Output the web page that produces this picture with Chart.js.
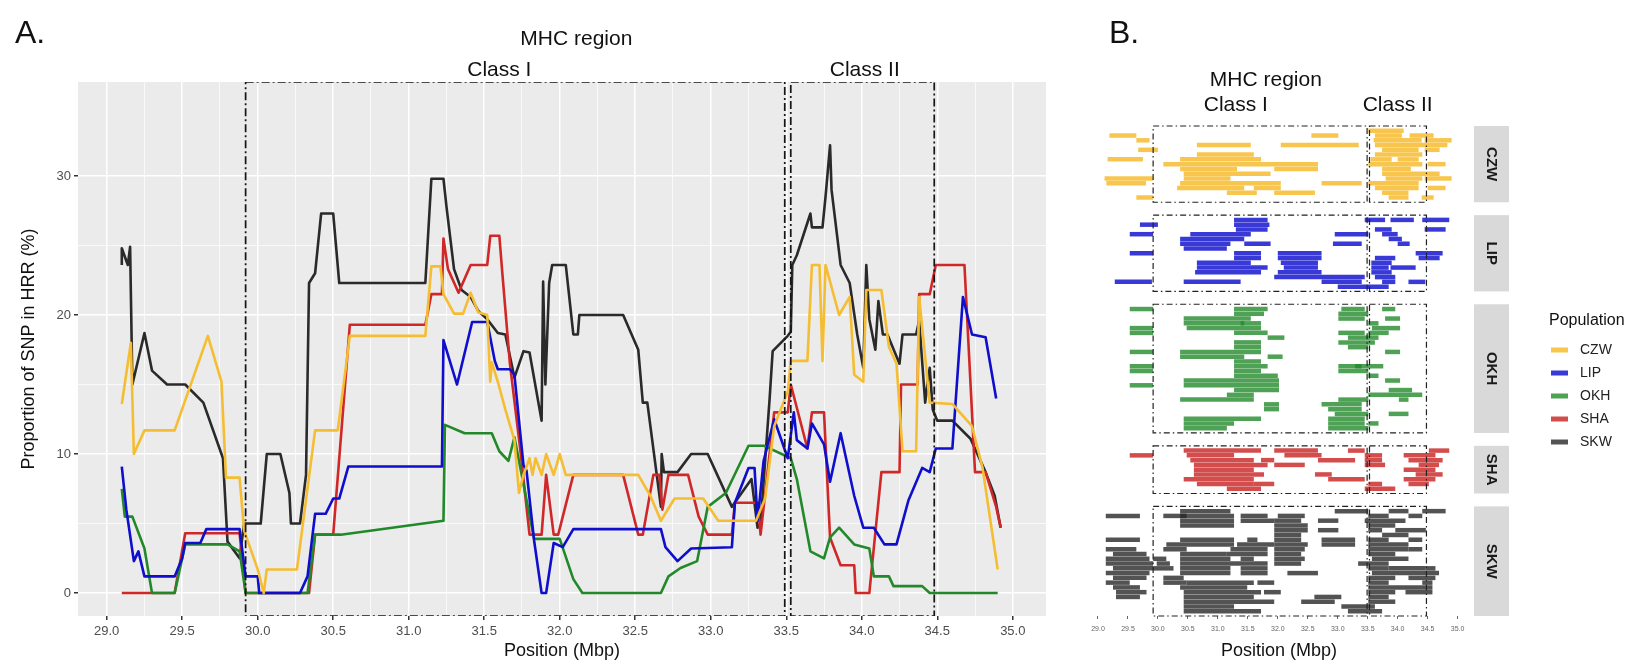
<!DOCTYPE html>
<html>
<head>
<meta charset="utf-8">
<script src="https://cdn.jsdelivr.net/npm/chart.js@4.4.1/dist/chart.umd.min.js"></script>
<style>
  body { margin: 0; background: #fff; }
  #wrap { position: relative; width: 1652px; height: 662px; overflow: hidden; font-family: "Liberation Sans", Arial, sans-serif; }
  canvas { position: absolute; top: 0; }
  #panelA { left: 0; }
  #panelB { left: 1070px; }
  .tag { position: absolute; font-size: 32px; line-height: 1; color: #111; }
</style>
</head>
<body>
<div id="wrap">
  <canvas id="panelA" width="1070" height="662"></canvas>
  <canvas id="panelB" width="582" height="662"></canvas>
  <div class="tag" style="left:15px;top:16px">A.</div>
  <div class="tag" style="left:1109px;top:16px">B.</div>
</div>
<script>
const populations = ['CZW', 'LIP', 'OKH', 'SHA', 'SKW']
const lineColors = ['#F5BD32', '#0E0ECC', '#22892A', '#D02828', '#2A2A2A']
const blockColors = ['rgba(247,186,40,0.82)', 'rgba(14,14,206,0.82)', 'rgba(34,137,42,0.8)', 'rgba(200,32,32,0.8)', 'rgba(40,40,40,0.8)']

// MHC sub-regions (Mbp)
const classI = [29.92, 33.49]
const classII = [33.53, 34.48]

// where the region captions sit on each panel (Mbp): MHC, Class I, Class II
const captionsA = [32.11, 31.6, 34.02]
const captionsB = [31.8, 31.3, 34.0]

// axis breaks
const xBreaks = [29.0, 29.5, 30.0, 30.5, 31.0, 31.5, 32.0, 32.5, 33.0, 33.5, 34.0, 34.5, 35.0]
const yBreaks = [0, 10, 20, 30]

// proportion of SNPs in HRR along the window, [position, percent]
const czwTrack = [[29.10,13.6],[29.16,18.0],[29.18,10.0],[29.25,11.7],[29.45,11.7],[29.67,18.5],[29.76,15.2],[29.79,8.3],[29.88,8.3],[29.91,4.5],[30.00,1.7],[30.04,0],[30.06,1.7],[30.26,1.7],[30.38,11.7],[30.53,11.7],[30.61,18.5],[31.11,18.5],[31.15,23.5],[31.21,23.5],[31.23,21.5],[31.30,20.1],[31.36,20.1],[31.41,21.6],[31.46,20.2],[31.52,20.0],[31.54,15.2],[31.55,16.6],[31.59,15.2],[31.64,13.2],[31.70,11.0],[31.73,7.2],[31.76,8.5],[31.80,9.7],[31.82,8.5],[31.84,9.7],[31.88,8.5],[31.91,10.0],[31.96,8.5],[32.00,10.0],[32.04,8.5],[32.52,8.5],[32.60,7.0],[32.67,5.2],[32.76,6.8],[32.95,6.8],[33.05,5.2],[33.30,5.2],[33.36,6.8],[33.42,12.0],[33.51,14.5],[33.53,16.7],[33.64,16.7],[33.67,23.6],[33.72,23.6],[33.74,16.7],[33.76,23.6],[33.85,20.0],[33.92,21.3],[33.95,15.7],[34.01,15.2],[34.03,21.8],[34.13,21.8],[34.18,17.7],[34.23,16.5],[34.27,10.2],[34.36,10.2],[34.38,21.3],[34.45,13.7],[34.60,13.6],[34.73,12.0],[34.80,9.0],[34.90,1.7]]
const lipTrack = [[29.10,9.1],[29.13,6.0],[29.18,2.3],[29.21,3.0],[29.25,1.2],[29.45,1.2],[29.50,2.5],[29.52,3.6],[29.62,3.6],[29.66,4.6],[29.88,4.6],[29.92,1.2],[30.00,1.2],[30.01,0],[30.28,0],[30.33,1.2],[30.38,5.7],[30.45,5.7],[30.50,6.8],[30.54,6.8],[30.60,9.1],[31.22,9.1],[31.23,18.2],[31.32,15.0],[31.42,19.5],[31.52,19.5],[31.57,16.7],[31.59,16.1],[31.67,16.1],[31.70,15.7],[31.76,9.2],[31.78,8.8],[31.83,3.8],[31.88,0],[31.91,0],[31.96,3.6],[32.02,3.3],[32.09,4.6],[32.67,4.6],[32.70,3.3],[32.78,2.3],[32.87,3.2],[33.14,3.3],[33.16,6.5],[33.25,9.0],[33.29,9.0],[33.31,5.2],[33.35,9.5],[33.42,12.5],[33.51,9.7],[33.55,13.0],[33.57,11.0],[33.64,10.4],[33.67,12.2],[33.75,10.7],[33.79,8.0],[33.86,11.5],[33.95,7.0],[34.01,4.7],[34.08,4.7],[34.15,3.5],[34.23,3.5],[34.31,6.7],[34.40,9.0],[34.45,8.7],[34.49,10.4],[34.60,10.4],[34.67,21.3],[34.73,18.6],[34.82,18.4],[34.89,14.0]]
const okhTrack = [[29.10,7.5],[29.12,5.5],[29.17,5.5],[29.25,3.2],[29.30,0],[29.45,0],[29.52,3.5],[29.80,3.5],[29.88,3.0],[29.92,0],[30.33,0],[30.38,4.2],[30.55,4.2],[31.23,5.2],[31.24,12.1],[31.37,11.5],[31.55,11.5],[31.60,10.2],[31.66,9.5],[31.70,11.2],[31.83,3.9],[32.00,3.9],[32.09,1.0],[32.15,0],[32.67,0],[32.72,1.2],[32.80,1.8],[32.91,2.3],[32.98,6.2],[33.10,7.2],[33.25,10.6],[33.35,10.6],[33.53,9.7],[33.57,8.2],[33.66,3.0],[33.75,2.5],[33.79,4.0],[33.85,4.7],[33.95,3.5],[34.05,3.2],[34.08,1.2],[34.18,1.2],[34.21,0.5],[34.40,0.5],[34.45,0],[34.90,0]]
const shaTrack = [[29.10,0],[29.45,0],[29.52,4.3],[29.88,4.3],[29.92,0],[30.34,0],[30.38,4.2],[30.50,4.2],[30.61,19.3],[31.11,19.3],[31.15,21.5],[31.22,21.5],[31.23,25.5],[31.26,23.3],[31.33,21.6],[31.41,23.6],[31.52,23.6],[31.54,25.7],[31.60,25.7],[31.62,23.0],[31.67,16.5],[31.74,10.2],[31.80,4.2],[31.88,4.2],[31.91,8.5],[31.96,4.2],[31.99,4.2],[32.09,8.5],[32.42,8.5],[32.52,4.2],[32.55,4.2],[32.62,8.5],[32.66,8.5],[32.68,6.0],[32.72,8.5],[32.85,8.5],[32.92,5.5],[32.98,4.2],[33.14,4.2],[33.16,6.5],[33.31,6.5],[33.33,4.2],[33.42,13.0],[33.51,13.0],[33.53,15.0],[33.64,10.4],[33.67,13.0],[33.75,13.0],[33.79,4.0],[33.86,2.0],[33.95,2.0],[33.96,0],[34.05,0],[34.13,8.7],[34.25,8.7],[34.26,15.0],[34.37,15.0],[34.38,21.5],[34.45,21.5],[34.49,23.6],[34.68,23.6],[34.75,8.7],[34.82,8.7],[34.89,6.2],[34.92,4.7]]
const skwTrack = [[29.10,23.6],[29.10,24.8],[29.14,23.6],[29.155,24.9],[29.17,15.0],[29.25,18.7],[29.30,16.0],[29.40,15.0],[29.52,15.0],[29.64,13.7],[29.77,9.7],[29.80,3.7],[29.88,2.5],[29.91,5.0],[30.02,5.0],[30.06,10.0],[30.15,10.0],[30.21,7.2],[30.22,5.0],[30.28,5.0],[30.32,8.5],[30.34,22.3],[30.38,23.0],[30.42,27.3],[30.50,27.3],[30.54,22.3],[31.11,22.3],[31.15,29.8],[31.23,29.8],[31.25,27.8],[31.30,23.3],[31.35,21.8],[31.41,21.3],[31.46,20.3],[31.52,19.7],[31.59,18.7],[31.64,18.6],[31.70,15.5],[31.76,17.4],[31.80,17.3],[31.88,12.4],[31.89,22.4],[31.905,15.0],[31.93,22.3],[31.95,23.6],[32.04,23.6],[32.09,18.6],[32.12,18.6],[32.13,20.0],[32.42,20.0],[32.52,17.5],[32.55,13.7],[32.58,13.7],[32.67,6.2],[32.675,10.0],[32.69,8.7],[32.78,8.7],[32.87,10.0],[32.98,10.0],[33.14,6.2],[33.27,8.2],[33.31,4.7],[33.33,5.0],[33.39,14.0],[33.41,17.4],[33.51,18.5],[33.53,18.8],[33.54,23.6],[33.57,24.3],[33.66,27.3],[33.67,26.3],[33.74,26.3],[33.76,28.5],[33.79,32.2],[33.80,29.0],[33.86,23.6],[33.92,22.3],[33.97,18.6],[34.01,16.2],[34.03,23.6],[34.05,19.7],[34.09,17.5],[34.11,21.0],[34.14,18.6],[34.17,18.6],[34.25,16.5],[34.27,18.6],[34.36,18.6],[34.38,19.6],[34.42,13.7],[34.44,15.5],[34.45,16.2],[34.47,13.2],[34.50,12.4],[34.60,12.4],[34.72,11.1],[34.82,8.7],[34.88,7.0],[34.92,4.7]]

// HRR blocks per haplotype, [row, start, end]
const czwBlocks = [[1,33.51,34.10],[2,29.19,29.64],[2,32.56,33.01],[2,33.62,34.07],[2,34.2,34.6],[3,29.64,29.86],[3,33.6,34.4],[3,34.45,34.9],[4,30.65,31.55],[4,32.05,32.67],[4,32.67,33.35],[4,33.62,34.83],[5,29.67,30.0],[5,33.74,34.35],[5,34.45,34.7],[6,30.65,31.6],[6,33.62,34.41],[7,29.16,29.75],[7,30.37,31.72],[7,33.55,33.9],[7,34.0,34.35],[8,30.09,32.67],[8,33.51,34.41],[8,34.5,34.8],[9,30.37,31.32],[9,31.94,32.67],[9,33.74,34.22],[10,30.43,31.88],[10,33.74,34.7],[11,29.11,29.92],[11,30.43,31.21],[11,33.8,34.41],[11,34.45,34.9],[12,29.14,29.8],[12,30.37,32.05],[12,32.73,33.4],[12,33.51,34.35],[13,30.32,31.44],[13,31.6,32.05],[13,33.62,34.35],[13,34.5,34.8],[14,31.15,31.65],[14,31.94,32.62],[14,33.74,34.18],[15,29.64,29.92],[15,33.85,34.18],[15,34.4,34.6]]
const lipBlocks = [[1,31.27,31.83],[1,33.45,33.79],[1,33.88,34.27],[1,34.41,34.86],[2,29.7,30.0],[2,31.27,31.86],[3,31.3,31.83],[3,33.62,33.9],[3,34.45,34.8],[4,29.53,29.92],[4,30.54,31.55],[4,32.95,33.51],[4,33.74,34.0],[5,30.37,31.44],[5,33.85,34.07],[6,30.37,31.21],[6,31.44,31.88],[6,32.92,33.4],[6,34.0,34.2],[7,30.43,31.15],[8,29.53,29.92],[8,31.27,31.72],[8,32.0,32.73],[8,34.3,34.75],[9,31.27,31.72],[9,32.0,32.73],[9,33.62,33.96],[9,34.35,34.7],[10,30.65,31.55],[10,32.05,32.67],[10,33.56,33.9],[11,30.65,31.83],[11,32.1,32.67],[11,33.56,33.85],[11,33.88,34.3],[12,30.62,31.72],[12,32.0,32.73],[12,33.56,33.9],[13,31.94,33.45],[13,33.62,33.96],[14,29.28,29.9],[14,30.43,31.38],[14,32.73,33.4],[14,33.74,33.96],[14,34.18,34.46],[15,33.0,33.85]]
const okhBlocks = [[1,29.53,29.92],[1,31.27,31.83],[1,33.06,33.45],[1,33.74,33.96],[2,31.27,31.77],[2,33.01,33.51],[3,30.43,31.55],[3,33.01,33.45],[3,33.79,34.04],[4,30.43,31.44],[4,31.38,31.72],[4,33.51,33.68],[5,29.53,29.92],[5,30.48,31.72],[5,33.57,34.04],[6,29.53,29.92],[6,31.27,31.83],[6,33.01,33.45],[6,33.51,33.85],[7,31.83,32.11],[7,33.17,33.68],[8,31.27,31.72],[8,33.01,33.62],[9,31.27,31.72],[9,33.17,33.51],[10,29.53,29.92],[10,30.37,31.72],[10,33.79,34.04],[11,30.37,31.44],[11,31.83,32.08],[12,31.27,31.72],[13,29.53,29.92],[13,31.27,31.83],[13,33.01,33.4],[13,33.29,33.76],[14,29.53,29.92],[14,31.27,31.72],[14,33.01,33.51],[15,31.27,32.0],[15,33.51,33.68],[16,30.43,32.02],[16,33.79,34.04],[17,29.53,29.92],[17,30.43,32.02],[18,31.27,32.02],[18,33.85,34.24],[19,31.15,31.6],[19,33.51,34.41],[20,30.37,31.6],[20,33.01,33.51],[20,34.02,34.18],[21,31.77,32.02],[21,32.73,33.4],[22,31.77,32.02],[22,32.84,33.4],[23,32.95,33.51],[23,33.85,34.18],[24,30.43,31.72],[24,32.84,33.45],[25,30.43,31.27],[25,32.84,33.45],[25,33.51,33.68],[26,30.43,31.15],[26,32.84,33.51]]
const shaBlocks = [[1,30.43,31.72],[1,31.94,32.67],[1,33.17,33.45],[1,34.52,34.86],[2,29.53,29.92],[2,30.48,31.27],[2,32.11,32.73],[2,33.45,33.74],[2,34.1,34.63],[3,30.54,31.6],[3,31.72,31.94],[3,32.67,33.29],[3,33.45,33.74],[3,34.18,34.75],[4,30.6,31.83],[4,31.94,32.45],[4,33.45,33.79],[4,34.35,34.69],[5,30.6,31.6],[5,34.1,34.63],[6,30.6,31.77],[6,32.62,32.9],[6,34.3,34.75],[7,30.43,31.6],[7,32.84,33.45],[7,34.1,34.63],[8,30.65,31.6],[8,31.6,31.94],[8,33.51,33.74],[8,34.18,34.52],[9,31.15,31.72],[9,33.45,33.96]]
const skwBlocks = [[1,30.37,31.21],[1,32.95,33.51],[1,33.85,34.18],[1,34.41,34.8],[2,29.13,29.7],[2,30.09,30.48],[2,30.37,31.27],[2,31.38,31.83],[2,32.0,32.45],[2,33.51,33.85],[2,34.18,34.41],[3,30.37,31.27],[3,31.38,31.94],[3,31.94,32.39],[3,32.67,33.01],[3,33.45,34.13],[4,30.37,31.27],[4,31.94,32.5],[4,33.51,33.96],[5,31.94,32.5],[5,32.67,33.01],[5,33.51,33.74],[5,33.96,34.47],[6,31.94,32.39],[6,33.74,34.18],[7,29.13,29.7],[7,30.37,31.27],[7,31.49,31.66],[7,31.94,32.39],[7,32.73,33.29],[7,33.51,33.85],[7,34.18,34.41],[8,30.14,31.27],[8,31.32,31.94],[8,31.94,32.5],[8,32.73,33.29],[8,33.51,34.18],[9,29.13,29.64],[9,30.09,30.48],[9,31.21,31.83],[9,31.94,32.45],[9,33.51,34.18],[9,34.18,34.41],[10,29.25,29.81],[10,30.37,31.15],[10,31.15,31.83],[10,31.94,32.39],[10,33.51,33.96],[11,29.13,29.86],[11,29.92,30.14],[11,30.37,31.21],[11,31.38,31.6],[11,31.94,32.45],[11,33.57,34.18],[12,29.13,29.92],[12,29.98,30.2],[12,30.37,31.27],[12,31.27,31.83],[12,31.94,32.39],[12,33.34,33.85],[13,29.25,29.92],[13,29.92,30.26],[13,30.37,31.21],[13,31.38,31.83],[13,33.51,33.85],[13,33.85,34.47],[13,34.47,34.63],[14,29.13,29.86],[14,30.37,31.21],[14,31.38,31.83],[14,32.16,32.67],[14,33.57,34.69],[15,29.25,29.81],[15,30.09,30.43],[15,33.51,33.96],[15,34.18,34.63],[16,29.13,29.53],[16,30.09,30.48],[16,30.48,31.6],[16,31.66,31.94],[16,33.51,33.85],[16,34.41,34.58],[17,29.25,29.7],[17,30.37,31.49],[17,33.51,34.58],[18,29.3,29.81],[18,30.43,31.72],[18,31.77,32.05],[18,33.51,33.96],[18,34.13,34.58],[19,29.3,29.7],[19,30.43,31.6],[19,32.61,33.06],[19,33.51,33.85],[20,30.43,31.94],[20,32.39,32.95],[20,33.51,33.96],[21,30.43,31.27],[21,33.06,33.62],[22,30.43,31.72],[22,33.17,33.74]]

const tracks = [czwTrack, lipTrack, okhTrack, shaTrack, skwTrack]
const blocks = [czwBlocks, lipBlocks, okhBlocks, shaBlocks, skwBlocks]

Chart.defaults.font.family = '"Liberation Sans", Arial, sans-serif'
Chart.defaults.animation = false
Chart.defaults.responsive = false
Chart.defaults.events = []
Chart.defaults.plugins.legend.display = false
Chart.defaults.plugins.tooltip.enabled = false

const FONT = '"Liberation Sans", Arial, sans-serif'

// gridline positions: majors plus a minor halfway between neighbours
const withMinors = majors => majors.flatMap((v, i) => i ? [(v + majors[i - 1]) / 2, v] : [v])
const isMajor = (list, v) => list.some(b => Math.abs(b - v) < 1e-9)

const strokeBox = (ctx, x0, x1, y0, y1) => {
    ctx.beginPath()
    ctx.rect(x0, y0, x1 - x0, y1 - y0)
    ctx.stroke()
}

const drawRegionTitles = (chart, at, yMain, yClass) => {
    const { ctx, scales: { x } } = chart
    ctx.save()
    ctx.fillStyle = '#111'
    ctx.font = `21px ${FONT}`
    ctx.textAlign = 'center'
    ctx.textBaseline = 'middle'
    ctx.fillText('MHC region', x.getPixelForValue(at[0]), yMain)
    ctx.fillText('Class I', x.getPixelForValue(at[1]), yClass)
    ctx.fillText('Class II', x.getPixelForValue(at[2]), yClass)
    ctx.restore()
}

// ---------- panel A: proportion lines ----------
const greyPanel = {
    id: 'greyPanel',
    beforeDraw(chart) {
        const { ctx, chartArea: a } = chart
        ctx.save()
        ctx.fillStyle = '#EBEBEB'
        ctx.fillRect(a.left, a.top, a.right - a.left, a.bottom - a.top)
        ctx.restore()
    }
}

const regionsA = {
    id: 'regionsA',
    afterDatasetsDraw(chart) {
        const { ctx, chartArea: a, scales: { x } } = chart
        ctx.save()
        ctx.beginPath()
        ctx.rect(a.left, a.top, a.right - a.left, a.bottom - a.top)
        ctx.clip()
        ctx.strokeStyle = '#151515'
        ctx.lineWidth = 1.7
        ctx.setLineDash([8, 3, 2, 3])
        for (const r of [classI, classII]) {
            strokeBox(ctx, x.getPixelForValue(r[0]), x.getPixelForValue(r[1]), a.top, a.bottom)
        }
        ctx.restore()
    },
    afterDraw(chart) {
        drawRegionTitles(chart, captionsA, 39, 70)
    }
}

const xGridA = withMinors(xBreaks)
const yGridA = withMinors(yBreaks)

new Chart(document.getElementById('panelA'), {
    type: 'line',
    data: {
        datasets: tracks.map((t, i) => ({
            label: populations[i],
            data: t.map(p => ({ x: p[0], y: p[1] })),
            borderColor: lineColors[i],
            borderWidth: 2.6,
            borderJoinStyle: 'round',
            pointRadius: 0,
            tension: 0,
            fill: false
        }))
    },
    options: {
        layout: { padding: { top: 82, right: 24 } },
        scales: {
            x: {
                type: 'linear',
                min: 28.81,
                max: 35.22,
                afterBuildTicks: axis => { axis.ticks = xGridA.map(v => ({ value: v })) },
                afterFit: axis => { axis.height = 46 },
                ticks: {
                    autoSkip: false,
                    maxRotation: 0,
                    padding: 4,
                    color: '#4D4D4D',
                    font: { size: 13 },
                    callback: v => isMajor(xBreaks, v) ? v.toFixed(1) : ''
                },
                grid: {
                    color: '#FFFFFF',
                    lineWidth: c => c.tick && isMajor(xBreaks, c.tick.value) ? 1.5 : 0.7,
                    tickLength: 4,
                    tickColor: c => c.tick && isMajor(xBreaks, c.tick.value) ? '#333333' : 'rgba(0,0,0,0)'
                },
                border: { display: false },
                title: { display: true, text: 'Position (Mbp)', color: '#111', font: { size: 18 }, padding: { top: 0, bottom: 0 } }
            },
            y: {
                type: 'linear',
                min: -1.65,
                max: 36.76,
                afterBuildTicks: axis => { axis.ticks = yGridA.map(v => ({ value: v })) },
                afterFit: axis => { axis.width = 78 },
                ticks: {
                    autoSkip: false,
                    padding: 3,
                    color: '#4D4D4D',
                    font: { size: 13 },
                    callback: v => isMajor(yBreaks, v) ? v : ''
                },
                grid: {
                    color: '#FFFFFF',
                    lineWidth: c => c.tick && isMajor(yBreaks, c.tick.value) ? 1.5 : 0.7,
                    tickLength: 4,
                    tickColor: c => c.tick && isMajor(yBreaks, c.tick.value) ? '#333333' : 'rgba(0,0,0,0)'
                },
                border: { display: false },
                title: { display: true, text: 'Proportion of SNP in HRR (%)', color: '#111', font: { size: 18 }, padding: { top: 18 } }
            }
        }
    },
    plugins: [greyPanel, regionsA]
})

// ---------- panel B: HRR blocks faceted by population ----------
const facetGap = 2.7
let cursor = 0
const facetSpans = blocks.map(list => {
    const rows = Math.max(...list.map(b => b[0]))
    const span = { top: cursor, bottom: cursor + rows + 1 }
    cursor = span.bottom + facetGap
    return span
})
const rowsEnd = cursor - facetGap

const blockSets = []
blocks.forEach((list, i) => {
    list.forEach(([row, start, end]) => {
        const y = facetSpans[i].top + row
        blockSets.push({
            data: [{ x: start, y }, { x: end, y }],
            borderColor: blockColors[i],
            borderWidth: 4.5,
            borderCapStyle: 'butt',
            pointRadius: 0,
            tension: 0,
            fill: false
        })
    })
})

const facetDecor = {
    id: 'facetDecor',
    afterDatasetsDraw(chart) {
        const { ctx, scales: { x, y } } = chart
        ctx.save()
        ctx.strokeStyle = '#222'
        ctx.lineWidth = 1.2
        ctx.setLineDash([6, 3, 1.5, 3])
        facetSpans.forEach(s => {
            const y0 = y.getPixelForValue(s.top)
            const y1 = y.getPixelForValue(s.bottom)
            for (const r of [classI, classII]) {
                strokeBox(ctx, x.getPixelForValue(r[0]), x.getPixelForValue(r[1]), y0, y1)
            }
        })
        ctx.restore()
    },
    afterDraw(chart) {
        const { ctx, chartArea: a, scales: { y } } = chart
        // facet strips
        ctx.save()
        const stripLeft = a.right + 2
        const stripWidth = 35
        facetSpans.forEach((s, i) => {
            const y0 = y.getPixelForValue(s.top)
            const y1 = y.getPixelForValue(s.bottom)
            ctx.fillStyle = '#D9D9D9'
            ctx.fillRect(stripLeft, y0, stripWidth, y1 - y0)
            ctx.save()
            ctx.translate(stripLeft + stripWidth / 2, (y0 + y1) / 2)
            ctx.rotate(Math.PI / 2)
            ctx.fillStyle = '#1A1A1A'
            ctx.font = `bold 15px ${FONT}`
            ctx.textAlign = 'center'
            ctx.textBaseline = 'middle'
            ctx.fillText(populations[i], 0, 0)
            ctx.restore()
        })

        // legend
        const lx = 479
        ctx.fillStyle = '#111'
        ctx.font = `16px ${FONT}`
        ctx.textAlign = 'left'
        ctx.textBaseline = 'middle'
        ctx.fillText('Population', lx, 321)
        populations.forEach((p, i) => {
            const cy = 350 + i * 23
            ctx.fillStyle = blockColors[i]
            ctx.fillRect(lx + 2, cy - 2.5, 17, 5)
            ctx.fillStyle = '#222'
            ctx.font = `14px ${FONT}`
            ctx.fillText(p, lx + 31, cy)
        })
        ctx.restore()

        drawRegionTitles(chart, captionsB, 80, 105)
    }
}

new Chart(document.getElementById('panelB'), {
    type: 'line',
    data: { datasets: blockSets },
    options: {
        layout: { padding: { top: 126, left: 16, right: 180 } },
        scales: {
            x: {
                type: 'linear',
                min: 28.8,
                max: 35.24,
                afterBuildTicks: axis => { axis.ticks = xBreaks.map(v => ({ value: v })) },
                afterFit: axis => { axis.height = 46 },
                ticks: {
                    autoSkip: false,
                    maxRotation: 0,
                    padding: 6,
                    color: '#666',
                    font: { size: 7 },
                    callback: v => v.toFixed(1)
                },
                grid: { drawOnChartArea: false, tickLength: 3, tickColor: '#666' },
                border: { display: false },
                title: { display: true, text: 'Position (Mbp)', color: '#111', font: { size: 18 }, padding: { top: 0, bottom: 0 } }
            },
            y: {
                type: 'linear',
                reverse: true,
                min: 0,
                max: rowsEnd,
                display: false
            }
        }
    },
    plugins: [facetDecor]
})
</script>
</body>
</html>
